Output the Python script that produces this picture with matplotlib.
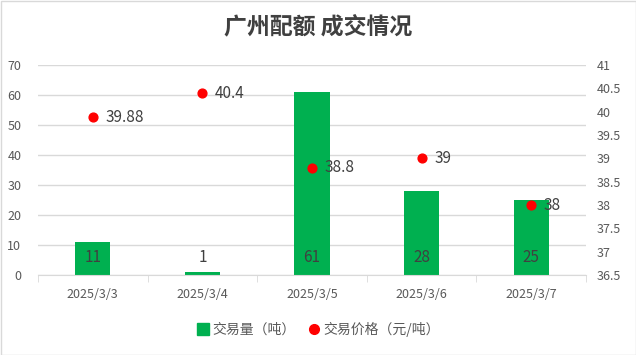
import matplotlib
matplotlib.use("Agg")
import matplotlib.pyplot as plt
from matplotlib.patches import Rectangle
from matplotlib.lines import Line2D
import numpy as np

plt.rcParams['font.family'] = ['Noto Sans CJK SC', 'DejaVu Sans']

categories = ["2025/3/3", "2025/3/4", "2025/3/5", "2025/3/6", "2025/3/7"]
volume = [11, 1, 61, 28, 25]
price = [39.88, 40.4, 38.8, 39, 38]
price_labels = ["39.88", "40.4", "38.8", "39", "38"]
left_ticks = [0, 10, 20, 30, 40, 50, 60, 70]
right_ticks = [36.5, 37, 37.5, 38, 38.5, 39, 39.5, 40, 40.5, 41]

green = "#00B050"
red = "#FF0000"
grid_c = "#D9D9D9"
tick_c = "#595959"
lab_c = "#404040"

fig = plt.figure(figsize=(6.36, 3.55), dpi=100)
fig.patches.append(Rectangle((0.5/636, 0.5/355), 1 - 1/636, 1 - 1/355, transform=fig.transFigure,
                             fill=False, edgecolor="#D9D9D9", linewidth=1))
ax = fig.add_axes([38/636, 1 - 275/355, 548/636, 210/355])
ax2 = ax.twinx()

x = np.arange(len(categories))
ax.bar(x, volume, width=0.32, color=green, zorder=2)
ax.set_xlim(-0.5, len(categories) - 0.5)
ax.set_ylim(0, 70)
ax.set_yticks(left_ticks)
ax.set_yticklabels([str(t) for t in left_ticks])
ax.yaxis.grid(True, color=grid_c, linewidth=1)
ax.set_axisbelow(True)
for s in ["top", "right", "left"]:
    ax.spines[s].set_visible(False)
ax.spines["bottom"].set_color(grid_c)
ax.tick_params(axis="y", length=0, labelsize=9, labelcolor=tick_c, pad=12)
ax.set_xticks(x)
ax.set_xticklabels(categories)
ax.tick_params(axis="x", which="major", length=0, labelsize=9, labelcolor=tick_c, pad=9)
ax.set_xticks(np.arange(-0.5, len(categories), 1), minor=True)
ax.tick_params(axis="x", which="minor", length=5, color=grid_c)

for xi, v in zip(x, volume):
    ax.text(xi, 6, str(v), ha="center", va="center", fontsize=11, color=lab_c, zorder=4)

ax2.scatter(x, price, s=40, color=red, zorder=5)
ax2.set_ylim(36.5, 41)
ax2.set_yticks(right_ticks)
ax2.set_yticklabels([("%g" % t) for t in right_ticks])
ax2.tick_params(axis="y", length=0, labelsize=9, labelcolor=tick_c, pad=8)
for s in ["top", "right", "left", "bottom"]:
    ax2.spines[s].set_visible(False)
for xi, p, l in zip(x, price, price_labels):
    ax2.annotate(l, (xi, p), xytext=(9, 0), textcoords="offset points", ha="left", va="center",
                 fontsize=11, color=lab_c, zorder=6)

fig.text(0.5, 1 - 27/355, "广州配额 成交情况", ha="center", va="center", fontsize=16.5,
         color=lab_c, fontweight="bold")

handles = [Line2D([], [], marker="s", linestyle="none", color=green, markersize=8),
           Line2D([], [], marker="o", linestyle="none", color=red, markersize=7)]
fig.legend(handles, ["交易量（吨）", "交易价格（元/吨）"], loc="center", bbox_to_anchor=(0.5, 1 - 329/355),
           ncol=2, frameon=False, fontsize=10, labelcolor=tick_c, handletextpad=0.2, columnspacing=0.8,
           handlelength=1.0)

fig.savefig("out.png", dpi=100)
